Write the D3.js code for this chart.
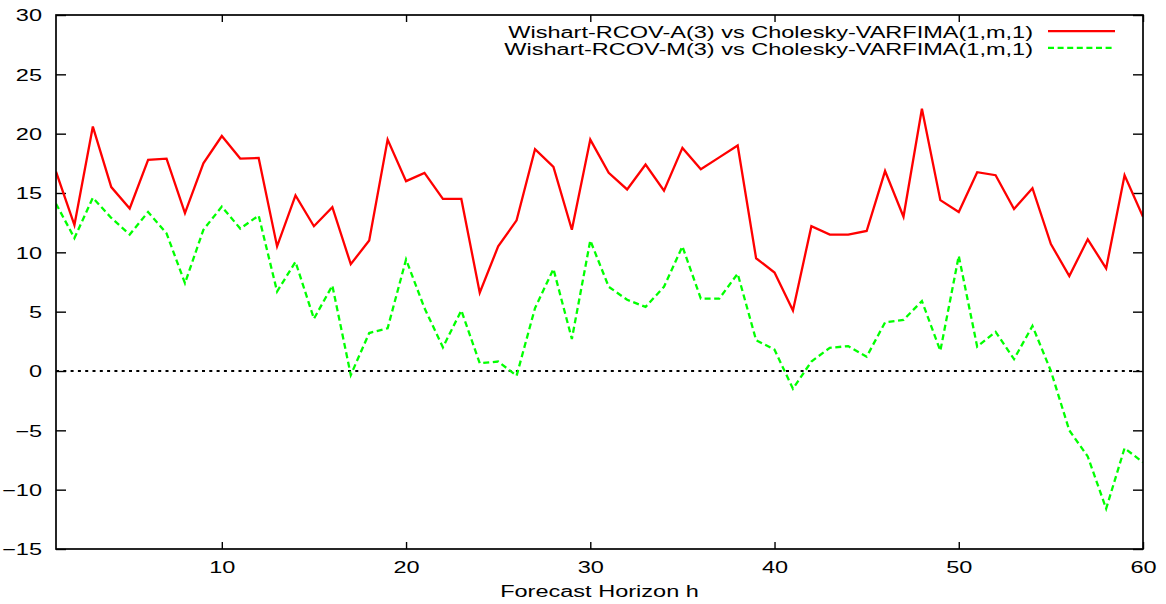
<!DOCTYPE html>
<html>
<head>
<meta charset="utf-8">
<script src="https://cdn.jsdelivr.net/npm/d3@7"></script>
<style>
  html, body { margin: 0; padding: 0; background: #fff; }
  svg { display: block; }
  text { font-family: "Liberation Sans", Arial, Helvetica, sans-serif; fill: #000; }
</style>
</head>
<body>
<svg id="chart" width="1166" height="604"></svg>
<script>
// ---- data ----
const horizons = d3.range(1, 61);
const seriesNames = [
  "Wishart-RCOV-A(3) vs Cholesky-VARFIMA(1,m,1)",
  "Wishart-RCOV-M(3) vs Cholesky-VARFIMA(1,m,1)"
];
const seriesA = [16.8, 12.3, 20.6, 15.5, 13.7, 17.8, 17.9, 13.3, 17.5, 19.8,
                 17.9, 17.95, 10.5, 14.8, 12.2, 13.8, 9.0, 11.0, 19.5, 16.0,
                 16.7, 14.5, 14.5, 6.6, 10.5, 12.7, 18.7, 17.2, 11.9, 19.5,
                 16.7, 15.3, 17.4, 15.2, 18.8, 17.0, 18.0, 19.0, 9.5, 8.3,
                 5.1, 12.2, 11.5, 11.5, 11.8, 16.85, 13.0, 22.1, 14.4, 13.4,
                 16.75, 16.5, 13.65, 15.4, 10.7, 8.0, 11.1, 8.65, 16.5, 13.0];
const seriesM = [14.1, 11.2, 14.6, 12.9, 11.5, 13.4, 11.6, 7.4, 11.9, 13.85,
                 12.0, 13.1, 6.7, 9.2, 4.4, 7.2, -0.34, 3.2, 3.6, 9.4,
                 5.3, 2.0, 5.1, 0.65, 0.8, -0.4, 5.3, 8.6, 2.7, 11.0,
                 7.1, 6.0, 5.4, 7.1, 10.5, 6.1, 6.1, 8.2, 2.6, 1.8,
                 -1.5, 0.8, 1.95, 2.1, 1.2, 4.1, 4.3, 5.9, 1.7, 9.7,
                 2.05, 3.3, 1.0, 3.8, 0.0, -5.0, -7.2, -11.6, -6.5, -7.7];
const xTicks = [10, 20, 30, 40, 50, 60];
const yTicks = [-15, -10, -5, 0, 5, 10, 15, 20, 25, 30];
const xTitle = "Forecast Horizon h";

// ---- layout ----
const L = 56, R = 1143, T = 15, B = 549;
const SX = 1.47; // horizontal text stretch (gnuplot-like)
const LW = 2.3;
const svg = d3.select("#chart");

const x = d3.scaleLinear().domain([1, 60]).range([L, R]);
const y = d3.scaleLinear().domain([-15, 30]).range([B, T]);

svg.append("defs").append("clipPath").attr("id", "clip")
  .append("rect").attr("x", L).attr("y", T).attr("width", R - L).attr("height", B - T);

function styleAxis(g) {
  g.select(".domain").remove();
  g.selectAll(".tick line").attr("stroke", "#000").attr("stroke-width", 1.4);
}

// bottom axis (ticks inward)
const gB = svg.append("g").attr("transform", `translate(0,${B})`)
  .call(d3.axisBottom(x).tickValues(xTicks).tickSize(-7).tickFormat(d3.format("d")));
styleAxis(gB);
gB.selectAll(".tick text")
  .attr("y", null).attr("dy", null).attr("x", null)
  .attr("text-anchor", "middle")
  .attr("font-size", 16)
  .attr("transform", `translate(0,${572.5 - B}) scale(${SX},1)`);

// top mirror ticks
const gT = svg.append("g").attr("transform", `translate(0,${T})`)
  .call(d3.axisTop(x).tickValues(xTicks).tickSize(-7).tickFormat(""));
styleAxis(gT);

// left axis (ticks inward)
const gL = svg.append("g").attr("transform", `translate(${L},0)`)
  .call(d3.axisLeft(y).tickValues(yTicks).tickSize(-10).tickFormat(d3.format("d")));
styleAxis(gL);
gL.selectAll(".tick text")
  .attr("x", null).attr("dy", null)
  .attr("text-anchor", "end")
  .attr("font-size", 16)
  .attr("transform", `translate(${42 - L},5.8) scale(${SX},1)`);

// right mirror ticks
const gR = svg.append("g").attr("transform", `translate(${R},0)`)
  .call(d3.axisRight(y).tickValues(yTicks).tickSize(-10).tickFormat(""));
styleAxis(gR);

// zero line
svg.append("line")
  .attr("x1", x(1)).attr("x2", x(60)).attr("y1", y(0)).attr("y2", y(0))
  .attr("stroke", "#000").attr("stroke-width", 1.9)
  .attr("stroke-dasharray", "3,4.3");

// series
const line = d3.line().x((d, i) => x(horizons[i])).y(d => y(d));
const plot = svg.append("g").attr("clip-path", "url(#clip)");
plot.append("path").datum(seriesA).attr("d", line)
  .attr("fill", "none").attr("stroke", "#ff0000").attr("stroke-width", LW)
  .attr("stroke-linejoin", "miter");
plot.append("path").datum(seriesM).attr("d", line)
  .attr("fill", "none").attr("stroke", "#00ff00").attr("stroke-width", LW)
  .attr("stroke-dasharray", "6,3.6");

// border
svg.append("rect")
  .attr("x", L).attr("y", T).attr("width", R - L).attr("height", B - T)
  .attr("fill", "none").attr("stroke", "#000").attr("stroke-width", 1.7);

// legend
const legendColors = ["#ff0000", "#00ff00"];
const legendDash = [null, "6,3.6"];
const legendBase = [38.3, 55];
seriesNames.forEach((name, i) => {
  svg.append("text")
    .attr("text-anchor", "end")
    .attr("font-size", 16)
    .attr("transform", `translate(1033,${legendBase[i]}) scale(${SX},1)`)
    .text(name);
  svg.append("line")
    .attr("x1", 1048).attr("x2", 1115)
    .attr("y1", legendBase[i] - 7.2).attr("y2", legendBase[i] - 7.2)
    .attr("stroke", legendColors[i]).attr("stroke-width", LW)
    .attr("stroke-dasharray", legendDash[i]);
});

// x title
svg.append("text")
  .attr("text-anchor", "middle")
  .attr("font-size", 16)
  .attr("transform", `translate(${(L + R) / 2},597.3) scale(${SX},1)`)
  .text(xTitle);
</script>
</body>
</html>
